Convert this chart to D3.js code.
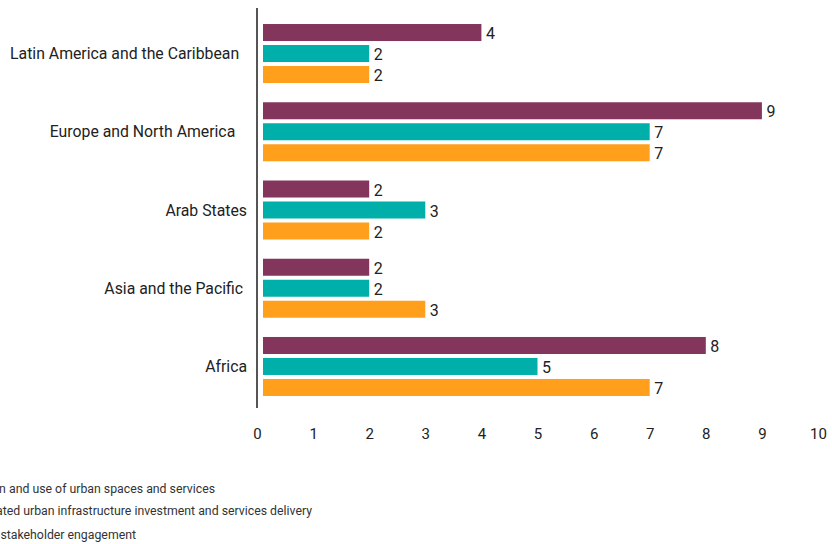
<!DOCTYPE html>
<html>
  <head>
    <meta charset="utf-8">
    <style>
      body { margin: 0; background: #fff; }
      svg text { font-family: Roboto, "Noto Sans", sans-serif; white-space: pre; }
    </style>
    <title>Regions bar chart</title>
  </head>
  <body>

  <div id="viz-wrapper"></div>

  <script src="https://cdnjs.cloudflare.com/ajax/libs/d3/7.8.5/d3.min.js" charset="utf-8"></script>
  <script type="text/javascript">

    // categories top to bottom (trailing spaces kept as in the source labels)
    var regions = ["Latin America and the Caribbean  ", "Europe and North America   ", "Arab States", "Asia and the Pacific ", "Africa"];

    var seriesNames = [
      "Inclusive design and use of urban spaces and services",
      "Integrated urban infrastructure investment and services delivery",
      "Inclusive stakeholder engagement"
    ];
    var seriesColors = ["#83355c", "#00afaa", "#ff9f1c"];

    var spacesValues = [4, 9, 2, 2, 8];
    var infraValues  = [2, 7, 3, 2, 5];
    var engageValues = [2, 7, 2, 3, 7];

    var tickValues = [0, 1, 2, 3, 4, 5, 6, 7, 8, 9, 10];

    var width = 832;
    var height = 544;

    var viz = d3.select("#viz-wrapper")
                .append('svg')
                .attr('width', width)
                .attr('height', height);

    var x = d3.scaleLinear().domain([0, 10]).range([257, 818]);

    var y = d3.scaleBand().domain(regions).range([14.4, 405.6]);

    var inner = d3.scaleBand()
                  .domain([0, 1, 2])
                  .range([y.bandwidth() / 2 - 29.5, y.bandwidth() / 2 + 29.5])
                  .paddingInner(0.19);

    var rows = regions.map(function(r, i) {
      return { region: r, values: [spacesValues[i], infraValues[i], engageValues[i]] };
    });

    var groups = viz.selectAll('g.group')
                    .data(rows)
                    .enter()
                    .append('g')
                    .attr('class', 'group')
                    .attr('transform', function(d) { return 'translate(0,' + y(d.region) + ')'; });

    var barGap = 6; // bars start a little right of the axis line

    groups.selectAll('rect')
          .data(function(d) { return d.values; })
          .enter()
          .append('rect')
          .attr('x', x(0) + barGap)
          .attr('y', function(d, i) { return inner(i); })
          .attr('width', function(d) { return x(d) - x(0) - barGap; })
          .attr('height', inner.bandwidth())
          .style('fill', function(d, i) { return seriesColors[i]; });

    groups.selectAll('text.value')
          .data(function(d) { return d.values; })
          .enter()
          .append('text')
          .attr('class', 'value')
          .attr('x', function(d) { return x(d) + 4.5; })
          .attr('y', function(d, i) { return inner(i) + inner.bandwidth() / 2 + 2.5; })
          .attr('dominant-baseline', 'middle')
          .style('font-size', '16px')
          .style('fill', '#222')
          .text(function(d) { return d; });

    groups.append('text')
          .attr('class', 'cat')
          .attr('x', 247)
          .attr('y', y.bandwidth() / 2 + 1.5)
          .attr('text-anchor', 'end')
          .attr('dominant-baseline', 'middle')
          .style('font-size', '15.8px')
          .style('fill', '#222')
          .text(function(d) { return d.region; });

    // vertical axis line
    viz.append('line')
       .attr('x1', x(0)).attr('x2', x(0))
       .attr('y1', 8).attr('y2', 408)
       .style('stroke', '#555')
       .style('stroke-width', 2);

    // x axis, labels only
    var xAxis = d3.axisBottom(x).tickValues(tickValues).tickSize(0).tickPadding(0);
    var gx = viz.append('g')
                .attr('transform', 'translate(0,428)')
                .call(xAxis);
    gx.select('.domain').remove();
    gx.selectAll('text')
      .style('font-family', 'Roboto, sans-serif')
      .style('font-size', '15px')
      .style('fill', '#222');

    // legend (clipped at the left edge like the source)
    var legendY = [489.5, 511.5, 536];
    var legendEnd = [215, 312, 136];
    viz.selectAll('text.legend')
       .data(seriesNames)
       .enter()
       .append('text')
       .attr('class', 'legend')
       .attr('x', function(d, i) { return legendEnd[i]; })
       .attr('y', function(d, i) { return legendY[i]; })
       .attr('text-anchor', 'end')
       .attr('dominant-baseline', 'middle')
       .style('font-size', '12.3px')
       .style('fill', '#333')
       .text(function(d) { return d; });

  </script>
  </body>
</html>
